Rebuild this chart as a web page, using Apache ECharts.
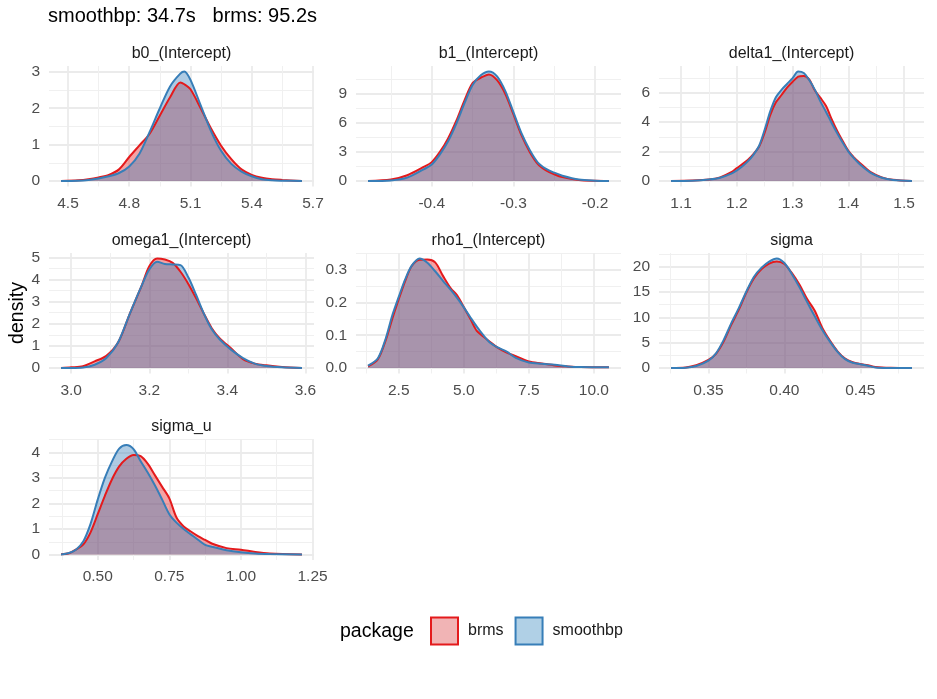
<!DOCTYPE html>
<html>
<head>
<meta charset="utf-8">
<script src="https://cdn.jsdelivr.net/npm/echarts@6.0.0/dist/echarts.min.js"></script>
<style>
html, body { margin: 0; padding: 0; background: #fff; }
#contain { width: 937px; height: 699px; }
</style>
</head>
<body>
<div id="contain"></div>
<script>
// posterior density curves (x grid + density per package)
const b0X = [4.466, 4.55, 4.6, 4.65, 4.7, 4.75, 4.8, 4.85, 4.9, 4.95, 5.0, 5.05, 5.07, 5.1, 5.15, 5.2, 5.25, 5.3, 5.35, 5.4, 5.45, 5.5, 5.55, 5.646];
const b0Brms = [0.0, 0.02, 0.05, 0.1, 0.17, 0.32, 0.66, 0.98, 1.3, 1.8, 2.3, 2.71, 2.66, 2.52, 2.0, 1.45, 0.97, 0.6, 0.32, 0.17, 0.09, 0.05, 0.03, 0.0];
const b0Smoothbp = [0.0, 0.01, 0.03, 0.07, 0.13, 0.22, 0.4, 0.75, 1.35, 2.0, 2.6, 2.95, 3.01, 2.78, 2.08, 1.38, 0.83, 0.47, 0.26, 0.13, 0.05, 0.02, 0.01, 0.0];

const b1X = [-0.478, -0.45, -0.43, -0.41, -0.4, -0.39, -0.38, -0.37, -0.36, -0.35, -0.34, -0.33, -0.32, -0.31, -0.3, -0.29, -0.28, -0.27, -0.26, -0.25, -0.24, -0.22, -0.2, -0.183];
const b1Brms = [0, 0.15, 0.6, 1.45, 1.95, 3.0, 4.4, 6.2, 8.3, 10.1, 10.65, 11.0, 10.4, 9.0, 6.9, 4.7, 3.0, 1.75, 1.1, 0.7, 0.4, 0.1, 0.02, 0];
const b1Smoothbp = [0, 0.06, 0.35, 1.2, 1.7, 2.75, 4.1, 5.9, 8.0, 9.9, 10.9, 11.3, 10.8, 9.3, 7.1, 4.9, 3.2, 1.9, 1.25, 0.86, 0.55, 0.15, 0.03, 0];

const deltaX = [1.082, 1.12, 1.15, 1.17, 1.19, 1.2, 1.21, 1.22, 1.23, 1.24, 1.25, 1.26, 1.27, 1.28, 1.29, 1.3, 1.31, 1.32, 1.33, 1.34, 1.35, 1.36, 1.37, 1.38, 1.39, 1.4, 1.41, 1.42, 1.44, 1.46, 1.48, 1.514];
const deltaBrms = [0, 0.03, 0.1, 0.25, 0.6, 0.88, 1.15, 1.45, 1.85, 2.35, 3.3, 4.5, 5.35, 5.85, 6.35, 6.75, 7.1, 7.15, 6.9, 6.15, 5.65, 5.1, 4.2, 3.4, 2.7, 2.05, 1.6, 1.25, 0.6, 0.25, 0.08, 0];
const deltaSmoothbp = [0, 0.02, 0.1, 0.22, 0.5, 0.72, 1.0, 1.35, 1.8, 2.4, 3.5, 4.75, 5.7, 6.2, 6.6, 7.0, 7.45, 7.35, 6.85, 6.2, 5.4, 4.7, 3.95, 3.25, 2.6, 2.0, 1.55, 1.15, 0.55, 0.22, 0.07, 0];

const omegaX = [2.974, 3.0, 3.03, 3.06, 3.09, 3.12, 3.15, 3.18, 3.2, 3.22, 3.24, 3.26, 3.28, 3.3, 3.32, 3.34, 3.36, 3.38, 3.41, 3.44, 3.47, 3.5, 3.54, 3.591];
const omegaBrms = [0, 0.03, 0.08, 0.3, 0.55, 1.15, 2.45, 3.7, 4.6, 4.95, 4.9, 4.75, 4.35, 3.8, 3.15, 2.45, 1.8, 1.35, 0.88, 0.4, 0.2, 0.12, 0.05, 0];
const omegaSmoothbp = [0, 0.0, 0.02, 0.15, 0.45, 1.15, 2.45, 3.7, 4.45, 4.8, 4.7, 4.68, 4.65, 4.1, 3.3, 2.45, 1.75, 1.3, 0.82, 0.45, 0.2, 0.09, 0.03, 0];

const rhoX = [1.32, 1.7, 2.0, 2.25, 2.5, 2.75, 3.0, 3.3, 3.6, 3.9, 4.2, 4.5, 4.75, 5.0, 5.25, 5.5, 5.75, 6.0, 6.3, 6.65, 7.0, 7.5, 8.0, 8.5, 9.0, 9.5, 10.58];
const rhoBrms = [0.005, 0.027, 0.085, 0.15, 0.21, 0.266, 0.311, 0.33, 0.331, 0.322, 0.281, 0.243, 0.221, 0.186, 0.15, 0.113, 0.096, 0.08, 0.062, 0.047, 0.036, 0.02, 0.014, 0.008, 0.005, 0.003, 0.002];
const rhoSmoothbp = [0.007, 0.03, 0.09, 0.16, 0.217, 0.271, 0.312, 0.334, 0.321, 0.295, 0.266, 0.238, 0.213, 0.185, 0.155, 0.126, 0.1, 0.078, 0.063, 0.05, 0.031, 0.017, 0.013, 0.01, 0.005, 0.003, 0.002];

const sigmaX = [0.3254, 0.335, 0.342, 0.35, 0.355, 0.36, 0.365, 0.37, 0.375, 0.38, 0.385, 0.39, 0.395, 0.4, 0.405, 0.41, 0.415, 0.42, 0.425, 0.43, 0.435, 0.44, 0.445, 0.45, 0.455, 0.46, 0.47, 0.484];
const sigmaBrms = [0, 0.1, 0.55, 1.6, 2.8, 5.2, 8.5, 11.5, 14.9, 17.7, 19.5, 20.6, 21.0, 20.5, 18.7, 16.4, 13.6, 11.3, 7.9, 5.4, 3.3, 1.85, 1.15, 0.8, 0.55, 0.22, 0.04, 0];
const sigmaSmoothbp = [0, 0.06, 0.4, 1.45, 2.9, 5.5, 8.8, 11.8, 15.1, 18.0, 19.8, 21.0, 21.6, 20.7, 18.5, 15.9, 13.0, 10.2, 7.5, 5.2, 3.2, 1.75, 1.05, 0.75, 0.45, 0.12, 0.02, 0];

const sigmaUX = [0.372, 0.4, 0.425, 0.45, 0.475, 0.5, 0.525, 0.55, 0.575, 0.6, 0.625, 0.65, 0.675, 0.7, 0.725, 0.75, 0.775, 0.8, 0.825, 0.85, 0.875, 0.9, 0.95, 1.0, 1.05, 1.1, 1.213];
const sigmaUBrms = [0.01, 0.05, 0.2, 0.4, 0.87, 1.58, 2.3, 2.95, 3.45, 3.75, 3.9, 3.85, 3.55, 3.1, 2.65, 2.2, 1.45, 1.1, 0.9, 0.72, 0.57, 0.42, 0.25, 0.19, 0.1, 0.04, 0];
const sigmaUSmoothbp = [0, 0.06, 0.2, 0.52, 1.2, 2.15, 3.0, 3.65, 4.15, 4.29, 4.13, 3.65, 3.2, 2.7, 2.15, 1.58, 1.25, 1.0, 0.79, 0.58, 0.38, 0.3, 0.17, 0.09, 0.04, 0.02, 0];

// tick labels per panel
const b0XTicks = ['4.5', '4.8', '5.1', '5.4', '5.7'];
const b0YTicks = ['0', '1', '2', '3'];
const b1XTicks = ['-0.4', '-0.3', '-0.2'];
const b1YTicks = ['0', '3', '6', '9'];
const deltaXTicks = ['1.1', '1.2', '1.3', '1.4', '1.5'];
const deltaYTicks = ['0', '2', '4', '6'];
const omegaXTicks = ['3.0', '3.2', '3.4', '3.6'];
const omegaYTicks = ['0', '1', '2', '3', '4', '5'];
const rhoXTicks = ['2.5', '5.0', '7.5', '10.0'];
const rhoYTicks = ['0.0', '0.1', '0.2', '0.3'];
const sigmaXTicks = ['0.35', '0.40', '0.45'];
const sigmaYTicks = ['0', '5', '10', '15', '20'];
const sigmaUXTicks = ['0.50', '0.75', '1.00', '1.25'];
const sigmaUYTicks = ['0', '1', '2', '3', '4'];

const panels = [
  { name: 'b0_(Intercept)', x: b0X, brms: b0Brms, smoothbp: b0Smoothbp, xt: b0XTicks, yt: b0YTicks },
  { name: 'b1_(Intercept)', x: b1X, brms: b1Brms, smoothbp: b1Smoothbp, xt: b1XTicks, yt: b1YTicks },
  { name: 'delta1_(Intercept)', x: deltaX, brms: deltaBrms, smoothbp: deltaSmoothbp, xt: deltaXTicks, yt: deltaYTicks },
  { name: 'omega1_(Intercept)', x: omegaX, brms: omegaBrms, smoothbp: omegaSmoothbp, xt: omegaXTicks, yt: omegaYTicks },
  { name: 'rho1_(Intercept)', x: rhoX, brms: rhoBrms, smoothbp: rhoSmoothbp, xt: rhoXTicks, yt: rhoYTicks },
  { name: 'sigma', x: sigmaX, brms: sigmaBrms, smoothbp: sigmaSmoothbp, xt: sigmaXTicks, yt: sigmaYTicks },
  { name: 'sigma_u', x: sigmaUX, brms: sigmaUBrms, smoothbp: sigmaUSmoothbp, xt: sigmaUXTicks, yt: sigmaUYTicks }
];

const font = '"Liberation Sans", Arial, sans-serif';
const red = '#E41A1C';
const blue = '#377EB8';
const colLeft = [49, 356, 659];
const rowTop = [66, 253, 439.5];
const panelW = 265;
const panelH = 120.5;

// ggplot style 5% expansion
const expand = (lo, hi) => {
  const d = (hi - lo) * 0.05;
  return [lo - d, hi + d];
};
const minorOf = (ticks, lim) => {
  const v = ticks.map(Number);
  const step = v[1] - v[0];
  const out = [];
  for (let t = v[0] - step / 2; t <= lim[1] + 1e-9; t += step) {
    if (t >= lim[0]) out.push(+t.toFixed(6));
  }
  return out;
};

const majorAxis = (gi, lim, ticks) => {
  const vals = ticks.map(Number);
  return {
    type: 'value', gridIndex: gi, min: lim[0], max: lim[1],
    axisLine: { show: false },
    axisTick: { show: false, customValues: vals },
    axisLabel: {
      customValues: vals, color: '#4d4d4d', fontSize: 15.5, fontFamily: font, margin: 9,
      formatter: (v) => {
        const k = vals.findIndex(t => Math.abs(t - v) < 1e-9);
        return k >= 0 ? ticks[k] : '';
      }
    },
    splitLine: { show: true, lineStyle: { color: '#ebebeb', width: 1.8 } }
  };
};
const minorAxis = (gi, lim, vals) => ({
  type: 'value', gridIndex: gi, min: lim[0], max: lim[1],
  axisLine: { show: false },
  axisTick: { show: false, customValues: vals },
  axisLabel: { show: false, customValues: vals },
  splitLine: { show: true, lineStyle: { color: '#f0f0f0', width: 1 } }
});

const densitySeries = (name, color, xs, ys, ai) => ({
  name: name, type: 'line', xAxisIndex: ai, yAxisIndex: ai,
  data: xs.map((x, k) => [x, ys[k]]),
  showSymbol: false, symbol: 'none', smooth: 0.3,
  lineStyle: { color: color, width: 2 },
  itemStyle: { color: color },
  areaStyle: { color: color, opacity: 0.4 },
  silent: true
});

const grid = [], xAxis = [], yAxis = [], series = [];
const graphic = [
  { type: 'text', x: 48, y: 16, style: { text: 'smoothbp: 34.7s   brms: 95.2s', fill: '#000', fontSize: 20, fontFamily: font, verticalAlign: 'middle', textVerticalAlign: 'middle' } },
  { type: 'text', x: 18, y: 313, rotation: Math.PI / 2, style: { text: 'density', fill: '#000', fontSize: 19.5, fontFamily: font, align: 'center', textAlign: 'center', verticalAlign: 'middle', textVerticalAlign: 'middle' } },
  { type: 'text', x: 340, y: 632, style: { text: 'package', fill: '#000', fontSize: 19.5, fontFamily: font, verticalAlign: 'middle', textVerticalAlign: 'middle' } }
];

panels.forEach((p, i) => {
  const col = i % 3, row = Math.floor(i / 3);
  grid.push({ left: colLeft[col], top: rowTop[row], width: panelW, height: panelH, outerBoundsMode: 'none' });
  const xLim = expand(Math.min(...p.x), Math.max(...p.x));
  const yLim = expand(0, Math.max(...p.brms, ...p.smoothbp));
  xAxis.push(majorAxis(i, xLim, p.xt), minorAxis(i, xLim, minorOf(p.xt, xLim)));
  yAxis.push(majorAxis(i, yLim, p.yt), minorAxis(i, yLim, minorOf(p.yt, yLim)));
  series.push(densitySeries('brms', red, p.x, p.brms, 2 * i));
  series.push(densitySeries('smoothbp', blue, p.x, p.smoothbp, 2 * i));
  graphic.push({
    type: 'text', x: colLeft[col] + panelW / 2, y: rowTop[row] - 12.5,
    style: { text: p.name, fill: '#1a1a1a', fontSize: 16, fontFamily: font, align: 'center', textAlign: 'center', verticalAlign: 'middle', textVerticalAlign: 'middle' }
  });
});

const myChart = echarts.init(document.getElementById('contain'));
myChart.setOption({
  animation: false,
  backgroundColor: '#fff',
  grid: grid,
  xAxis: xAxis,
  yAxis: yAxis,
  series: series,
  graphic: graphic,
  legend: {
    left: 430, top: 616.5, orient: 'horizontal', padding: 0,
    icon: 'rect', itemWidth: 27, itemHeight: 27, itemGap: 11,
    selectedMode: false,
    textStyle: { fontSize: 16, color: '#1a1a1a', fontFamily: font, padding: [0, 0, 0, 5] },
    data: [
      { name: 'brms', itemStyle: { color: '#F1B4B5', borderColor: red, borderWidth: 2 } },
      { name: 'smoothbp', itemStyle: { color: '#B0D0E6', borderColor: blue, borderWidth: 2 } }
    ]
  }
});
</script>
</body>
</html>
